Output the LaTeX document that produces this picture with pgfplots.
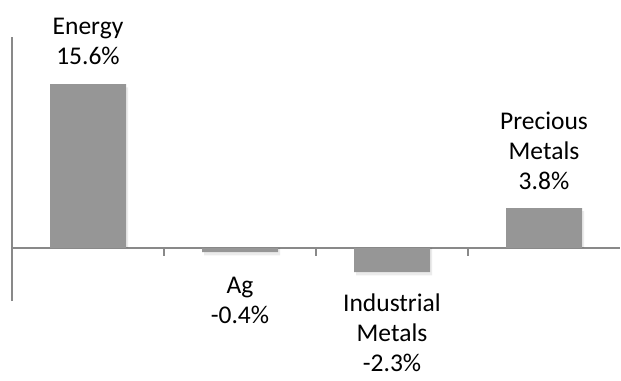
\documentclass[border=0pt]{standalone}
\usepackage{fontspec}
\setmainfont{Carlito}
\usepackage{pgfplots}
\pgfplotsset{compat=1.18}
\definecolor{barg}{RGB}{150,150,150}
\definecolor{axg}{RGB}{137,137,137}
\tikzset{lab/.style={font=\fontsize{25.5bp}{30bp}\selectfont, align=center, inner sep=0pt, text=black}}
\begin{document}
\begin{tikzpicture}
\useasboundingbox (0,0) rectangle (621bp,381bp);
\begin{axis}[
  at={(12bp,80bp)}, anchor=south west,
  scale only axis, width=608bp, height=264bp,
  xmin=-0.5, xmax=3.5, ymin=-5.05, ymax=20.1,
  axis x line=middle, axis y line=left,
  axis line style={draw=axg, line width=1.2bp, -},
  xtick=\empty, ytick=\empty,
  clip=false,
  ybar, bar width=76bp,
]
\addplot[fill=black, fill opacity=0.08, draw=none, bar shift=2bp] coordinates {(0,15.3) (1,-0.7) (2,-2.6) (3,3.5)};
\addplot[fill=barg, draw=none, bar shift=0pt] coordinates {(0,15.6) (1,-0.4) (2,-2.3) (3,3.8)};
\foreach \t in {0.5,1.5,2.5} {
  \edef\tmp{\noexpand\draw[axg, line width=1.2bp] (axis cs:\t,0) -- (axis cs:\t,-0.78);}
  \tmp
}
\node[lab, anchor=south] at (axis cs:0,17.43) {Energy\\15.6\%};
\node[lab, anchor=north] at (axis cs:1,-2.76) {Ag\\-0.4\%};
\node[lab, anchor=north] at (axis cs:2,-4.38) {Industrial\\Metals\\-2.3\%};
\node[lab, anchor=south] at (axis cs:3,5.52) {Precious\\Metals\\3.8\%};
\end{axis}
\end{tikzpicture}
\end{document}
